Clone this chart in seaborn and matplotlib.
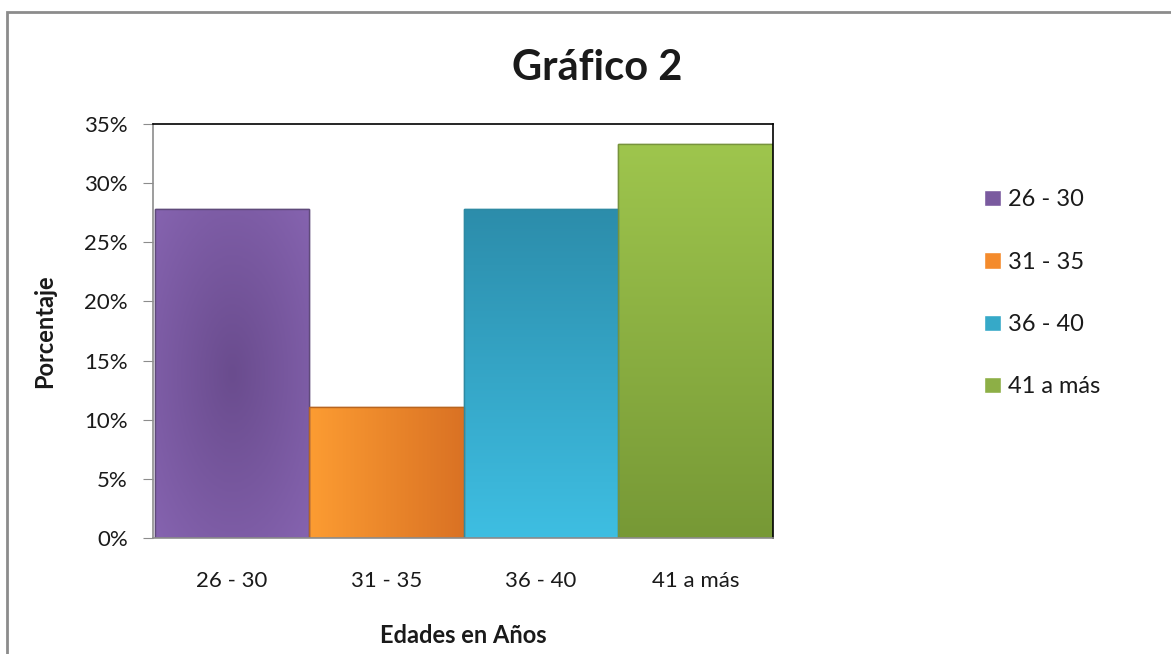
import numpy as np
import matplotlib.pyplot as plt
from matplotlib.patches import Rectangle
from matplotlib.colors import LinearSegmentedColormap
from matplotlib.ticker import PercentFormatter
import seaborn as sns

edades = ["26 - 30", "31 - 35", "36 - 40", "41 a más"]
porcentaje = [27.8, 11.1, 27.8, 33.3]
colores = ["#7A5A9F", "#F48B2C", "#36A9C8", "#8DAF46"]
# degradado de cada barra (claro/oscuro) como en Excel
degradados = [("#6A4C8E", "#8563AF"), ("#FC9C32", "#DA7224"),
              ("#2C8DAB", "#3EBEE2"), ("#9EC54D", "#779936")]
bordes = ["#5F4A7A", "#B8651F", "#2E8AA3", "#77933C"]

sns.set_style("white")
plt.rcParams['font.family'] = ['Lato', 'DejaVu Sans']
plt.rcParams['text.color'] = "#1a1a1a"
plt.rcParams['axes.labelcolor'] = "#1a1a1a"
plt.rcParams['xtick.color'] = "#1a1a1a"
plt.rcParams['ytick.color'] = "#1a1a1a"

fig = plt.figure(figsize=(11.71, 6.54), dpi=100)
# marco exterior del grafico
fig.patches.append(Rectangle((7 / 1171, -0.1), 1.2, 1.1 - 12 / 654, transform=fig.transFigure,
                             fill=False, edgecolor="#8c8c8c", linewidth=2))

ax = fig.add_axes([153 / 1171, 1 - 538 / 654, 620 / 1171, 414 / 654])
sns.barplot(x=edades, y=porcentaje, hue=edades, palette=colores, width=1.0,
            saturation=1, dodge=False, legend=True, ax=ax)

n = 100
yy, xx = np.mgrid[0:1:n * 1j, 0:1:n * 1j]
mapas = [np.sqrt((xx - 0.5) ** 2 + (yy - 0.5) ** 2) / 0.7,  # radial
         xx,          # horizontal
         1 - yy,      # vertical: oscuro arriba
         1 - yy]      # vertical: claro arriba
for bar, ec, (c0, c1), m in zip(ax.patches[:4], bordes, degradados, mapas):
    bar.set_edgecolor(ec)
    bar.set_linewidth(1.0)
    cmap = LinearSegmentedColormap.from_list("g", [c0, c1])
    x0, w, h = bar.get_x(), bar.get_width(), bar.get_height()
    im = ax.imshow(np.clip(m, 0, 1), extent=[x0, x0 + w, 0, h], origin="lower",
                   aspect="auto", cmap=cmap, vmin=0, vmax=1, zorder=bar.get_zorder() + 0.1)
    im.set_clip_path(bar)
    # reborde por encima del degradado
    ax.add_patch(Rectangle((x0, 0), w, h, fill=False, edgecolor=ec, linewidth=1.0,
                           zorder=bar.get_zorder() + 0.2))

ax.set_ylim(0, 35)
ax.set_xlim(-0.51, 3.5)
ax.set_yticks(np.arange(0, 36, 5))
ax.yaxis.set_major_formatter(PercentFormatter(decimals=0))
ax.tick_params(axis="y", left=True, length=7, color="#8c8c8c", labelsize=16, pad=11)
ax.tick_params(axis="x", bottom=False, labelsize=16, pad=20)
for s in ["left", "bottom"]:
    ax.spines[s].set_color("#8c8c8c")
for s in ["top", "right"]:
    ax.spines[s].set_color("black")
for s in ax.spines.values():
    s.set_linewidth(1.2)
    s.set_zorder(5)

ax.set_xlabel("Edades en Años", fontsize=17, fontweight="bold", labelpad=24)
ax.set_ylabel("Porcentaje", fontsize=17, fontweight="bold", labelpad=20)
fig.text(597 / 1171, 1 - 68 / 654, "Gráfico 2", ha="center", va="center",
         fontsize=30, fontweight="bold")

leg = ax.legend(loc="upper left", bbox_to_anchor=(822 / 620, (538 - 180) / 414),
                frameon=False, fontsize=17, handlelength=0.7, handleheight=0.7,
                handletextpad=0.3, labelspacing=1.75, borderaxespad=0)

fig.savefig("out.png", dpi=100)
